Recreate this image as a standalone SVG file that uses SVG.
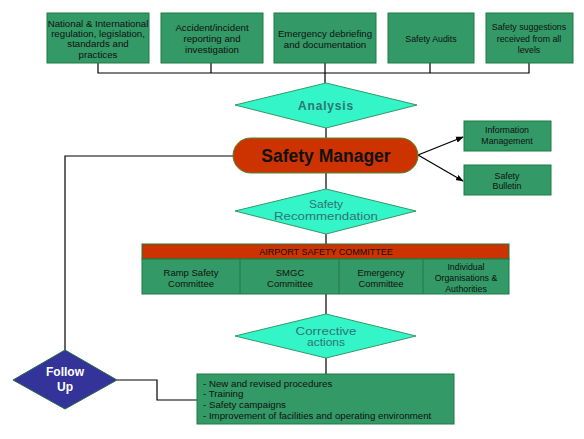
<svg xmlns="http://www.w3.org/2000/svg" width="584" height="439" viewBox="0 0 584 439">
<defs>
<marker id="arr" markerWidth="8" markerHeight="8" refX="7" refY="4" orient="auto" markerUnits="userSpaceOnUse">
<path d="M0,1 L8,4 L0,7 z" fill="#000"/>
</marker>
<style>
.box{fill:#339966;stroke:#1f7a45;stroke-width:1}
.dia{fill:#33f5c8;stroke:#339966;stroke-width:1}
.t{font-family:"Liberation Sans",Arial,sans-serif;font-size:8.8px;fill:#111;text-anchor:middle}
.tl{font-size:9.7px}
.dt{font-family:"Liberation Sans",Arial,sans-serif;fill:#2f7474;text-anchor:middle}
.ln{stroke:#000;stroke-width:1.2;fill:none}
</style>
</defs>
<rect width="584" height="439" fill="#fff"/>
<g id="connectors">
<path class="ln" d="M98,63 V73 H529 V63 M211,63 V73 M325,63 V83 M430,63 V73"/>
<path class="ln" d="M326,128 V138"/>
<path class="ln" d="M326,173 V189"/>
<path class="ln" d="M326,234 V244"/>
<path class="ln" d="M326,294 V314"/>
<path class="ln" d="M326,358 V374"/>
<path class="ln" d="M418,155 L463,137" marker-end="url(#arr)"/>
<path class="ln" d="M418,155 L463,181" marker-end="url(#arr)"/>
<path class="ln" d="M65,350 V156 H234"/>
<path class="ln" d="M117,380 H157 V400 H197"/>
</g>
<g id="n-national">
<rect class="box" x="47" y="13" width="102" height="50"/>
<text class="t tl" x="98" y="26.5">National &amp; International</text>
<text class="t tl" x="98" y="37">regulation, legislation,</text>
<text class="t tl" x="98" y="47">standards and</text>
<text class="t tl" x="98" y="58">practices</text>
</g>
<g id="n-accident">
<rect class="box" x="161" y="13" width="102" height="50"/>
<text class="t tl" x="212" y="30.5">Accident/incident</text>
<text class="t tl" x="212" y="42">reporting and</text>
<text class="t tl" x="212" y="53">investigation</text>
</g>
<g id="n-emergency">
<rect class="box" x="274" y="13" width="102" height="50"/>
<text class="t tl" x="325" y="37">Emergency debriefing</text>
<text class="t tl" x="325" y="47.5">and documentation</text>
</g>
<g id="n-audits">
<rect class="box" x="388" y="13" width="86" height="50"/>
<text class="t" x="431" y="42">Safety Audits</text>
</g>
<g id="n-suggestions">
<rect class="box" x="486" y="13" width="87" height="50"/>
<text class="t" x="529" y="30">Safety suggestions</text>
<text class="t" x="529" y="42">received from all</text>
<text class="t" x="529" y="53">levels</text>
</g>
<g id="n-analysis">
<polygon class="dia" points="326,83 417,105 326,128 235,105"/>
<text class="dt" x="326" y="110" style="font-size:12px" font-weight="bold" letter-spacing="0.8">Analysis</text>
</g>
<g id="n-manager">
<rect x="233" y="138" width="185" height="35" rx="17.5" fill="#cc3300" stroke="#4f8a2a" stroke-width="1"/>
<text x="326" y="162" font-family="'Liberation Sans',Arial,sans-serif" font-size="17.5" font-weight="bold" fill="#111" text-anchor="middle">Safety Manager</text>
</g>
<g id="n-info">
<rect class="box" x="464" y="121" width="87" height="30"/>
<text class="t" x="507" y="133">Information</text>
<text class="t" x="507" y="144">Management</text>
</g>
<g id="n-bulletin">
<rect class="box" x="464" y="165" width="87" height="30"/>
<text class="t" x="507" y="179">Safety</text>
<text class="t" x="507" y="189">Bulletin</text>
</g>
<g id="n-recommendation">
<polygon class="dia" points="326,189 416,211 326,234 235,211"/>
<text class="dt" x="326" y="208" style="font-size:10px" textLength="34" lengthAdjust="spacingAndGlyphs">Safety</text>
<text class="dt" x="326" y="219.5" style="font-size:10px" textLength="104" lengthAdjust="spacingAndGlyphs">Recommendation</text>
</g>
<g id="n-committee">
<rect x="142" y="244" width="367" height="15" fill="#cc3300" stroke="#1f7a45" stroke-width="1"/>
<text class="t" x="326" y="255" style="font-size:9px">AIRPORT SAFETY COMMITTEE</text>
<rect class="box" x="142" y="259" width="367" height="35"/>
<path d="M240,259 V294 M339,259 V294 M423,259 V294" stroke="#1f7a45" stroke-width="1"/>
<text class="t" x="191" y="275.5" style="font-size:9.5px">Ramp Safety</text>
<text class="t" x="191" y="286.5" style="font-size:9.5px">Committee</text>
<text class="t" x="290" y="275.5" style="font-size:9.5px">SMGC</text>
<text class="t" x="290" y="286.5" style="font-size:9.5px">Committee</text>
<text class="t" x="381" y="275.5" style="font-size:9.3px">Emergency</text>
<text class="t" x="381" y="286.5" style="font-size:9.3px">Committee</text>
<text class="t" x="466" y="270">Individual</text>
<text class="t" x="466" y="281">Organisations &amp;</text>
<text class="t" x="466" y="292">Authorities</text>
</g>
<g id="n-corrective">
<polygon class="dia" points="326,314 416,336 326,358 235,336"/>
<text class="dt" x="326" y="334.5" style="font-size:10px" textLength="61" lengthAdjust="spacingAndGlyphs">Corrective</text>
<text class="dt" x="326" y="346" style="font-size:10px" textLength="38" lengthAdjust="spacingAndGlyphs">actions</text>
</g>
<g id="n-actions">
<rect class="box" x="197" y="374" width="257" height="50"/>
<g font-family="'Liberation Sans',Arial,sans-serif" font-size="9.7" fill="#111">
<text x="203" y="386.5">- New and revised procedures</text>
<text x="203" y="397">- Training</text>
<text x="203" y="408">- Safety campaigns</text>
<text x="203" y="418.5">- Improvement of facilities and operating environment</text>
</g>
</g>
<g id="n-followup">
<polygon points="65,350 117,380 65,409 13,380" fill="#333399" stroke="#2a6a4a" stroke-width="1"/>
<text x="65" y="376" font-family="'Liberation Sans',Arial,sans-serif" font-size="12" font-weight="bold" fill="#fff" text-anchor="middle">Follow</text>
<text x="65" y="391" font-family="'Liberation Sans',Arial,sans-serif" font-size="12" font-weight="bold" fill="#fff" text-anchor="middle">Up</text>
</g>
</svg>
